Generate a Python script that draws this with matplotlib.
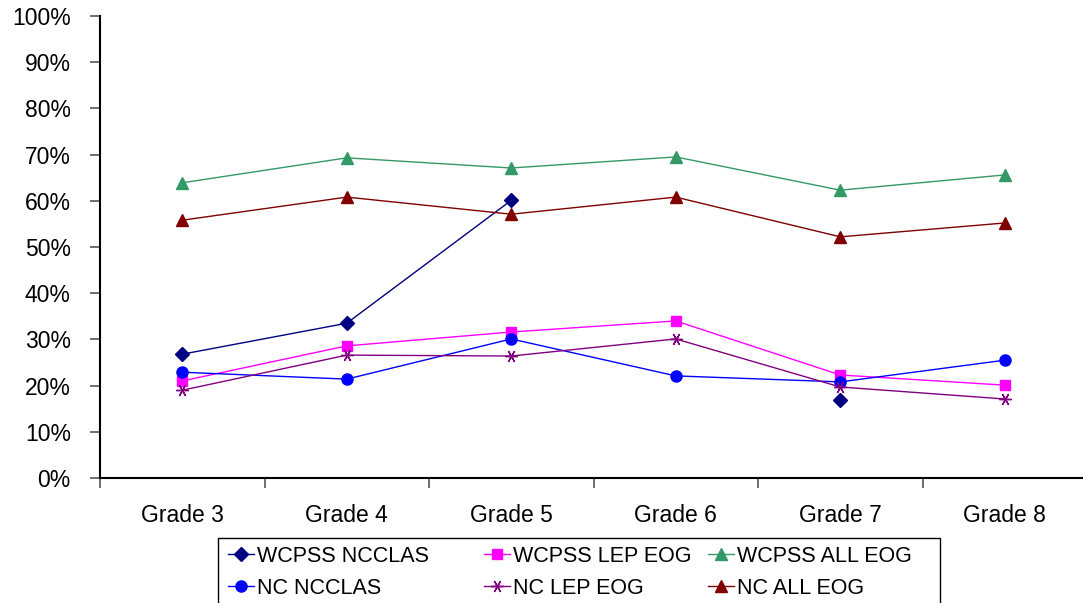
import matplotlib.pyplot as plt
import numpy as np
from matplotlib.patches import Rectangle

plt.rcParams["font.family"] = ["Liberation Sans", "DejaVu Sans"]

grades = ["Grade 3", "Grade 4", "Grade 5", "Grade 6", "Grade 7", "Grade 8"]
nan = np.nan
wcpss_ncclas = [26.8, 33.5, 60.1, nan, 16.9, nan]
wcpss_lep = [21.0, 28.6, 31.6, 34.0, 22.3, 20.1]
wcpss_all = [63.9, 69.3, 67.1, 69.5, 62.3, 65.6]
nc_ncclas = [22.9, 21.4, 30.1, 22.1, 20.8, 25.5]
nc_lep = [19.0, 26.6, 26.4, 30.1, 19.7, 17.1]
nc_all = [55.8, 60.8, 57.1, 60.8, 52.2, 55.2]

W, H = 1083, 603
fig = plt.figure(figsize=(W / 100, H / 100), dpi=100)
ax = fig.add_axes([100 / W, 1 - 478 / H, 987 / W, 462 / H])

x = np.arange(len(grades))
star = (6, 2, 90)
lines = []
lines += ax.plot(x, wcpss_ncclas, color="#000080", marker="D", ms=7, lw=1, label="WCPSS NCCLAS")
lines += ax.plot(x, wcpss_lep, color="#FF00FF", marker="s", ms=7, lw=1, label="WCPSS LEP EOG")
lines += ax.plot(x, wcpss_all, color="#339966", marker="^", ms=8, lw=1, label="WCPSS ALL EOG")
lines += ax.plot(x, nc_ncclas, color="#0000FF", marker="o", ms=8, lw=1, label="NC NCCLAS")
lines += ax.plot(x, nc_lep, color="#800080", marker=star, ms=9, mew=1, lw=1, label="NC LEP EOG")
lines += ax.plot(x, nc_all, color="#800000", marker="^", ms=8, lw=1, label="NC ALL EOG")

ax.set_xlim(-0.5, len(grades) - 0.5)
ax.set_ylim(0, 100)
ax.set_yticks(np.arange(0, 101, 10))
ax.set_yticklabels([f"{v}%" for v in range(0, 101, 10)], fontsize=16.5)
ax.set_xticks(x)
ax.set_xticklabels(grades, fontsize=16.5)
ax.tick_params(axis="x", which="major", length=0, pad=19)
ax.set_xticks(np.arange(-0.5, len(grades), 1), minor=True)
ax.tick_params(axis="x", which="minor", length=7, width=1.2, color="#555555")
ax.tick_params(axis="y", length=7, width=1.2, color="#555555", pad=14)
for s in ["top", "right"]:
    ax.spines[s].set_visible(False)
ax.spines["left"].set_linewidth(1.5)
ax.spines["bottom"].set_linewidth(1.5)

# legend box: Excel-style fixed columns
fig.patches.append(Rectangle((218 / W, -0.05), 722 / W, 0.05 + 1 - 538 / H,
                             transform=fig.transFigure, fill=False,
                             edgecolor="black", linewidth=1))
col_x = [228, 484, 708]
for i, cx in enumerate(col_x):
    fig.legend(handles=[lines[i], lines[i + 3]], loc="upper left",
               bbox_to_anchor=(cx / W, 1 - 546 / H), fontsize=15.5, frameon=False,
               handlelength=1.2, handletextpad=0.15, labelspacing=0.5,
               borderpad=0, borderaxespad=0)

fig.savefig("out.png", dpi=100)
